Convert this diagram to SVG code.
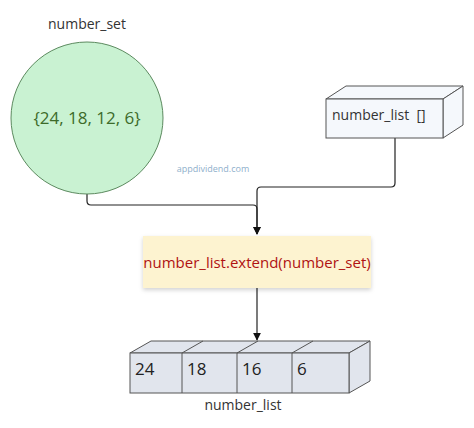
<svg xmlns="http://www.w3.org/2000/svg" width="474" height="428" viewBox="0 0 474 428">
<defs>
<marker id="arr" viewBox="0 0 10 10" refX="9" refY="5" markerWidth="8" markerHeight="8" markerUnits="userSpaceOnUse" orient="auto"><path d="M0,0 L10,5 L0,10 z" fill="#111"/></marker>
<filter id="sh" x="-10%" y="-20%" width="120%" height="150%"><feDropShadow dx="0" dy="2" stdDeviation="2" flood-color="#000" flood-opacity="0.18"/></filter>
</defs>
<style>
text{font-family:"Open Sans","Noto Sans","Liberation Sans",sans-serif;}
.lbl{font-size:14px;fill:#333;}
.cube{fill:#f5f8fc;stroke:#555;stroke-width:1;}
.cell{fill:#e1e5ed;stroke:#555;stroke-width:1;}
.conn{fill:none;stroke:#222;stroke-width:1.2;}
.num{font-size:17px;fill:#222;}
</style>
<rect width="474" height="428" fill="#fff"/>
<g id="connectors">
<path class="conn" d="M87,193 V201 Q87,205 91,205 H253 Q257,205 257,209 V234" marker-end="url(#arr)"/>
<path class="conn" d="M395,138 V183 Q395,187 391,187 H261 Q257,187 257,191 V234" marker-end="url(#arr)"/>
<path class="conn" d="M257,288 V340" marker-end="url(#arr)"/>
</g>
<g id="number_set">
<text class="lbl" x="87" y="29" text-anchor="middle">number_set</text>
<circle cx="87" cy="118" r="76" fill="#c9f2d2" stroke="#5c8a5f" stroke-width="1"/>
<text x="87" y="124" text-anchor="middle" font-size="17" fill="#3d6b2a">{24, 18, 12, 6}</text>
</g>
<g id="watermark">
<text x="213" y="172" text-anchor="middle" font-size="9" fill="#8fb0cc">appdividend.com</text>
</g>
<g id="number_list_empty">
<path class="cube" d="M326,99 L346,86 L463,86 L443,99 Z"/>
<path class="cube" d="M443,99 L463,86 L463,125 L443,138 Z"/>
<rect class="cube" x="326" y="99" width="117" height="39"/>
<text class="lbl" x="332" y="120" xml:space="preserve" style="white-space:pre">number_list  []</text>
</g>
<g id="extend">
<rect x="143" y="236" width="228" height="52" fill="#fdf3d0" filter="url(#sh)"/>
<text x="257" y="268" text-anchor="middle" font-size="15" fill="#b01212">number_list.extend(number_set)</text>
</g>
<g id="number_list">
<path class="cell" d="M130,353 L151,341 L370,341 L349,353 Z"/>
<path class="cell" d="M349,353 L370,341 L370,381 L349,393 Z"/>
<rect class="cell" x="130" y="353" width="219" height="40"/>
<path fill="none" stroke="#555" d="M182,353 V393 M237,353 V393 M292,353 V393 M182,353 L203,341 M237,353 L258,341 M292,353 L313,341"/>
<text class="num" x="135" y="375">24</text>
<text class="num" x="187" y="375">18</text>
<text class="num" x="242" y="375">16</text>
<text class="num" x="297" y="375">6</text>
<text class="lbl" x="243" y="410" text-anchor="middle">number_list</text>
</g>
</svg>
